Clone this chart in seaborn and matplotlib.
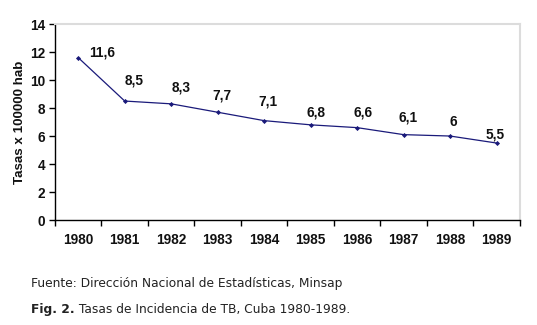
import matplotlib
matplotlib.use("Agg")
import matplotlib.pyplot as plt
import seaborn as sns
import pandas as pd
import numpy as np

# Tuberculosis incidence rates, Cuba 1980-1989
years = ["1980", "1981", "1982", "1983", "1984", "1985", "1986", "1987", "1988", "1989"]
rates = [11.6, 8.5, 8.3, 7.7, 7.1, 6.8, 6.6, 6.1, 6.0, 5.5]
value_labels = ["11,6", "8,5", "8,3", "7,7", "7,1", "6,8", "6,6", "6,1", "6", "5,5"]

y_ticks = [0, 2, 4, 6, 8, 10, 12, 14]
y_label = "Tasas x 100000 hab"
source_text = "Fuente: Dirección Nacional de Estadísticas, Minsap"
caption_bold = "Fig. 2."
caption_text = " Tasas de Incidencia de TB, Cuba 1980-1989."

df = pd.DataFrame({"pos": np.arange(len(years)), "rate": rates})

sns.set_theme(style="white")
plt.rcParams["font.family"] = ["Liberation Sans", "DejaVu Sans"]

fig = plt.figure(figsize=(5.37, 3.25), dpi=100)
ax = fig.add_axes([0.1024, 0.323, 0.8656, 0.603])

line_color = "#1a1a7a"
sns.lineplot(data=df, x="pos", y="rate", ax=ax, color=line_color, linewidth=0.9,
             marker="D", markersize=2.6, markeredgewidth=0, markerfacecolor=line_color)

# label offsets in points (dx, dy)
offsets = [(17, 4), (7, 15), (7, 12), (3, 12), (3, 14), (4, 9), (4, 11), (3, 12), (2, 10), (-1, 6)]
for i, (v, lab) in enumerate(zip(rates, value_labels)):
    dx, dy = offsets[i]
    ax.annotate(lab, (i, v), xytext=(dx, dy), textcoords="offset points",
                ha="center", va="center", fontsize=9.8, fontweight="bold", color="#111111")

ax.set_xlim(-0.5, len(years) - 0.5)
ax.set_ylim(0, 14)
ax.set_yticks(y_ticks)
ax.set_yticklabels([str(t) for t in y_ticks], fontsize=9.8, fontweight="bold", color="#111111")
ax.set_xticks(np.arange(len(years)))
ax.set_xticklabels(years, fontsize=9.8, fontweight="bold", color="#111111")
ax.set_xticks(np.arange(len(years) + 1) - 0.5, minor=True)
ax.tick_params(axis="x", which="major", length=0, pad=9)
ax.tick_params(axis="x", which="minor", length=4, width=1, color="black", direction="out", bottom=True)
ax.tick_params(axis="y", which="major", length=4, width=1, color="black", direction="out", left=True, pad=3)
ax.set_xlabel("")
ax.set_ylabel(y_label, fontsize=9.6, fontweight="bold", color="#111111", labelpad=3)

for side in ["left", "bottom"]:
    ax.spines[side].set_color("black")
    ax.spines[side].set_linewidth(1.0)
for side in ["top", "right"]:
    ax.spines[side].set_color("#dcdcdc")
    ax.spines[side].set_linewidth(1.5)
ax.grid(False)

fig.text(31 / 537, 1 - 283 / 325, source_text, fontsize=8.8, family="DejaVu Sans",
         va="center", ha="left", color="#222222")
t = fig.text(31 / 537, 1 - 310 / 325, caption_bold, fontsize=8.8, family="DejaVu Sans",
             fontweight="bold", va="center", ha="left", color="#222222")
fig.canvas.draw()
bb = t.get_window_extent()
fig.text(bb.x1 / fig.bbox.width, 1 - 310 / 325, caption_text, fontsize=8.8,
         family="DejaVu Sans", va="center", ha="left", color="#222222")

fig.savefig("out.png", dpi=100)
